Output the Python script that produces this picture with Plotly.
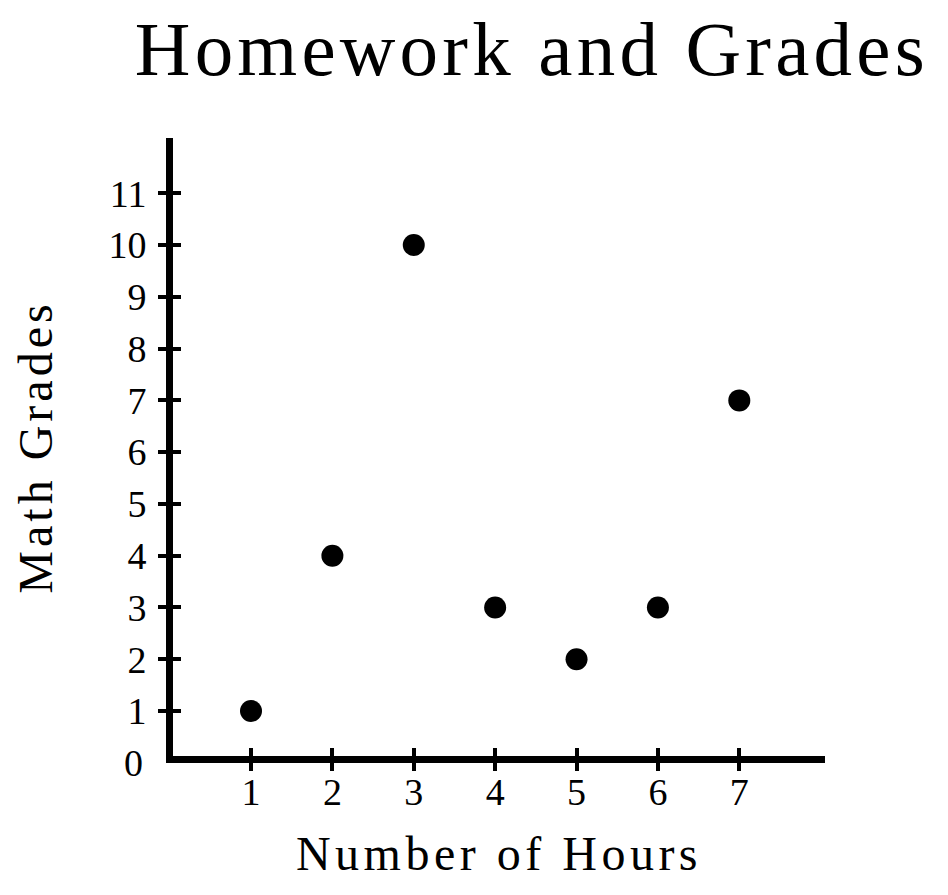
import plotly.graph_objects as go

hours = [1, 2, 3, 4, 5, 6, 7]
grades = [1, 4, 10, 3, 2, 3, 7]
x_ticks = [1, 2, 3, 4, 5, 6, 7]
y_ticks = [1, 2, 3, 4, 5, 6, 7, 8, 9, 10, 11]
origin_label = "0"
title_text = "Homework and Grades"
x_title = "Number of Hours"
y_title = "Math Grades"

FONT = "Liberation Serif, Times New Roman, serif"
x_range = [0.0415, 8.053]
y_range = [0.131, 12.068]

fig = go.Figure()
fig.add_trace(go.Scatter(
    x=hours, y=grades, mode="markers",
    marker=dict(size=22, color="black"),
    showlegend=False, hoverinfo="skip",
))
# helper trace so overlay axes (inner half of crossing ticks) are drawn
fig.add_trace(go.Scatter(x=[], y=[], xaxis="x2", yaxis="y2",
                         showlegend=False, hoverinfo="skip"))

axis_common = dict(showgrid=False, zeroline=False, showline=True,
                   linewidth=7, linecolor="black", ticks="outside",
                   ticklen=8, tickwidth=4, tickcolor="black")

fig.update_layout(
    width=948, height=895,
    margin=dict(l=173, r=123, t=138, b=139, autoexpand=False),
    paper_bgcolor="white", plot_bgcolor="white",
    font=dict(family=FONT, color="black"),
    title=dict(
        text=f'<span style="letter-spacing:4.2px">{title_text}</span>',
        font=dict(family=FONT, size=77, color="black"),
        x=0.561, xanchor="center", xref="container",
        y=0.946, yanchor="middle", yref="container",
    ),
    xaxis=dict(
        range=x_range, tickvals=x_ticks,
        tickfont=dict(family=FONT, size=38),
        ticklabelstandoff=-12,
        title=dict(text=f'<span style="letter-spacing:4.5px">{x_title}</span>',
                   font=dict(family=FONT, size=48), standoff=27),
        **axis_common,
    ),
    yaxis=dict(
        range=y_range, tickvals=y_ticks,
        tickfont=dict(family=FONT, size=38),
        ticklabelstandoff=4,
        title=dict(text=f'<span style="letter-spacing:4px">{y_title}</span>',
                   font=dict(family=FONT, size=48), standoff=43),
        **axis_common,
    ),
    xaxis2=dict(overlaying="x", anchor="y", side="bottom", range=x_range,
                tickvals=x_ticks, showticklabels=False, showgrid=False,
                zeroline=False, showline=False, ticks="inside", ticklen=8,
                tickwidth=4, tickcolor="black"),
    yaxis2=dict(overlaying="y", anchor="x", side="left", range=y_range,
                tickvals=y_ticks, showticklabels=False, showgrid=False,
                zeroline=False, showline=False, ticks="inside", ticklen=8,
                tickwidth=4, tickcolor="black"),
    annotations=[dict(
        text=origin_label, x=0, xref="paper", y=0, yref="paper",
        xanchor="right", yanchor="middle", xshift=-28, yshift=-7,
        showarrow=False,
        font=dict(family=FONT, size=38, color="black"),
    )],
)

fig.write_html("out.html")
